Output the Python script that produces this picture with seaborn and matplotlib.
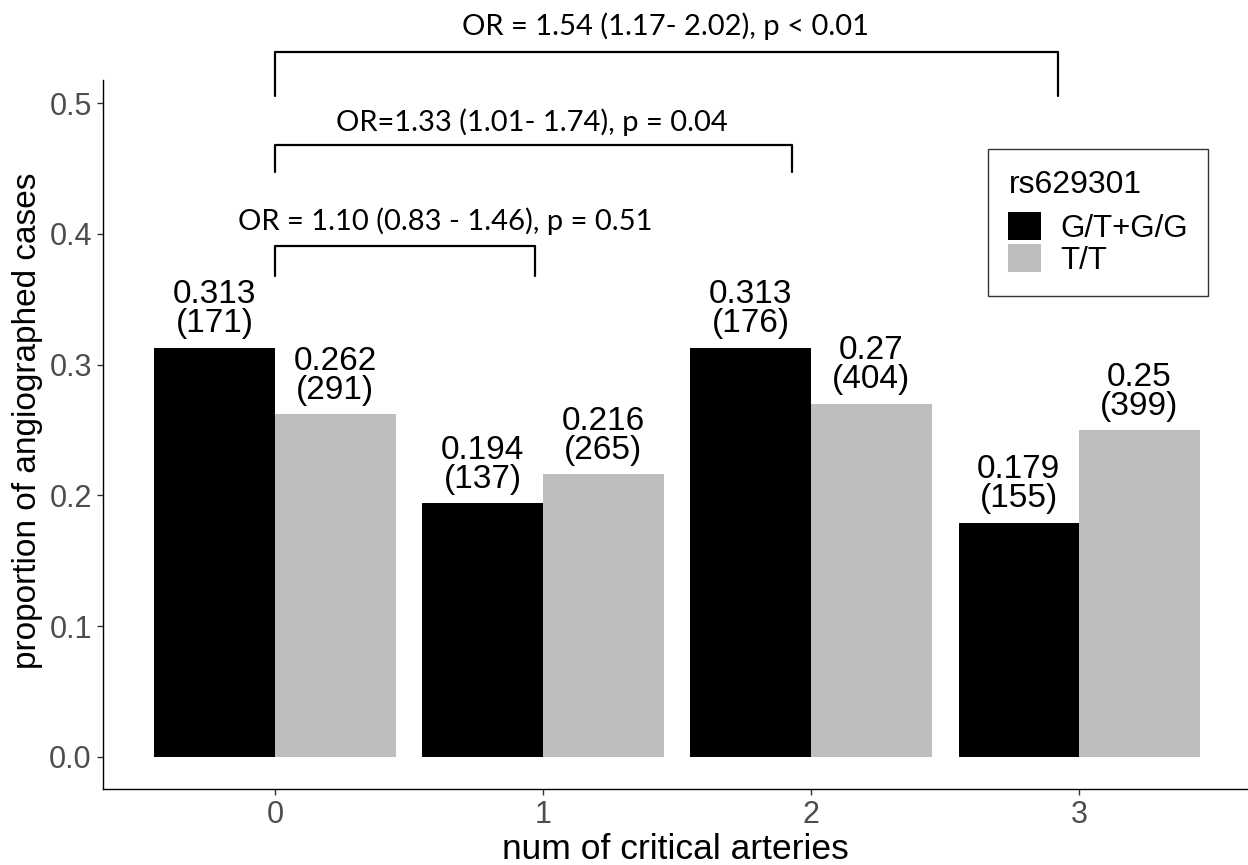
import matplotlib
matplotlib.use("Agg")
import matplotlib.pyplot as plt
import pandas as pd
import seaborn as sns
from matplotlib.patches import Patch

# values
arteries = ["0", "1", "2", "3"]
genotypes = ["G/T+G/G", "T/T"]
prop_gt = [0.313, 0.194, 0.313, 0.179]
prop_tt = [0.262, 0.216, 0.27, 0.25]
n_gt = [171, 137, 176, 155]
n_tt = [291, 265, 404, 399]
or_labels = [
    "OR = 1.10 (0.83 - 1.46), p = 0.51",
    "OR=1.33 (1.01- 1.74), p = 0.04",
    "OR = 1.54 (1.17- 2.02), p < 0.01",
]
colors = ["black", "#BEBEBE"]

df = pd.DataFrame({
    "arteries": arteries * 2,
    "genotype": [genotypes[0]] * 4 + [genotypes[1]] * 4,
    "prop": prop_gt + prop_tt,
    "n": n_gt + n_tt,
})

sns.set_style("ticks")
plt.rcParams["font.family"] = ["Liberation Sans", "DejaVu Sans"]
plt.rcParams["text.color"] = "black"

fig = plt.figure(figsize=(12.48, 8.65), dpi=100)
ax = fig.add_axes([0.0825, 0.088, 0.9175, 0.8195])

sns.barplot(data=df, x="arteries", y="prop", hue="genotype", order=arteries,
            hue_order=genotypes, palette=colors, width=0.9, gap=0,
            linewidth=0, saturation=1, ax=ax, legend=False)

# value labels on top of each bar
for cont, vals, ns in zip(ax.containers, [prop_gt, prop_tt], [n_gt, n_tt]):
    for bar, v, n in zip(cont, vals, ns):
        ax.annotate(f"{v:g}\n({n})", (bar.get_x() + bar.get_width() / 2, bar.get_height()),
                    xytext=(0, 6), textcoords="offset points", ha="center", va="bottom",
                    fontsize=24, linespacing=0.92, color="black")

# OR brackets
brackets = [(0, 0.97, 0.391, 0.023), (0, 1.93, 0.468, 0.021), (0, 2.92, 0.539, 0.034)]
text_pos = [(0.634, 0.410), (0.959, 0.485), (1.455, 0.559)]
for (x0, x1, top, leg), (tx, ty), lab in zip(brackets, text_pos, or_labels):
    ax.plot([x0, x0, x1, x1], [top - leg, top, top, top - leg], color="black",
            lw=1.6, solid_joinstyle="round", clip_on=False)
    ax.text(tx, ty, lab, ha="center", va="center", fontsize=21, color="black",
            family=["Lato", "Liberation Sans"], clip_on=False)

ax.set_xlim(-0.642, 3.63)
ax.set_ylim(-0.0245, 0.5176)
ax.set_yticks([0.0, 0.1, 0.2, 0.3, 0.4, 0.5])
ax.set_yticklabels(["0.0", "0.1", "0.2", "0.3", "0.4", "0.5"])
ax.tick_params(axis="both", labelsize=22, labelcolor="#4D4D4D", color="#333333",
               length=4, width=1, pad=4)
ax.set_xlabel("num of critical arteries", fontsize=25.5, labelpad=2, color="black")
ax.set_ylabel("proportion of angiographed cases", fontsize=24, color="black")
ax.yaxis.set_label_coords(-0.052, 0.52)
sns.despine(ax=ax)
for s in ["left", "bottom"]:
    ax.spines[s].set_color("black")
    ax.spines[s].set_linewidth(1)

handles = [Patch(facecolor=c, edgecolor="none") for c in colors]
leg = ax.legend(handles, genotypes, title="rs629301", loc="upper left",
                bbox_to_anchor=(0.773, 0.902), frameon=True, fancybox=False,
                edgecolor="black", fontsize=22.5, title_fontsize=23,
                handlelength=1.05, handleheight=1.0, labelspacing=0.0,
                handletextpad=0.6, borderpad=0.65, alignment="left", borderaxespad=0)
leg.get_frame().set_linewidth(1)
leg._legend_box.sep = 9  # extra gap under the title

fig.savefig("out.png", dpi=100)
